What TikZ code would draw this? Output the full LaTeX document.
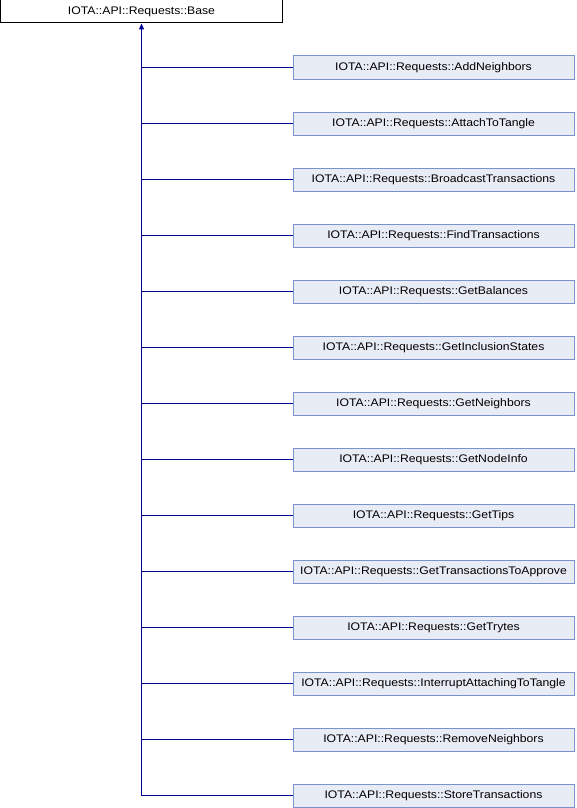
\documentclass[tikz,border=0pt]{standalone}
\usepackage{fontspec}
\setmainfont[FakeStretch=1.11]{Liberation Sans}
\usetikzlibrary{arrows.meta}
\definecolor{linknavy}{RGB}{0,0,150}
\definecolor{classfill}{RGB}{232,236,245}
\definecolor{classedge}{RGB}{122,146,206}
\tikzset{
  basebox/.style={draw=black, fill=white, line width=1pt, minimum width=282pt,
    minimum height=23pt, inner sep=0pt, font=\fontsize{11}{12}\selectfont},
  childbox/.style={draw=classedge, fill=classfill, line width=1pt, minimum width=281pt,
    minimum height=23pt, inner sep=0pt, font=\fontsize{11}{12}\selectfont},
  inherit/.style={draw=linknavy, line width=1pt},
}
\begin{document}
\begin{tikzpicture}[x=1pt, y=-1pt]
\useasboundingbox (0,0) rectangle (576,808);
\node[basebox] (base) at (141.5,11.5) {IOTA::API::Requests::Base};
\foreach \name [count=\k from 0] in {AddNeighbors, AttachToTangle, BroadcastTransactions,
  FindTransactions, GetBalances, GetInclusionStates, GetNeighbors, GetNodeInfo, GetTips,
  GetTransactionsToApprove, GetTrytes, InterruptAttachingToTangle, RemoveNeighbors,
  StoreTransactions}{
  \node[childbox] (c\k) at (433.5,{67.5+56*\k}) {IOTA::API::Requests::\name};
}
% trunk with the inheritance arrowhead at the base class
\draw[inherit, {Triangle[length=6pt,width=5pt]}-] (base.south) -- (base.south |- c13.west) -- (c13.west);
\foreach \k in {0,...,12}{
  \draw[inherit] (base.south |- c\k.west) -- (c\k.west);
}
\end{tikzpicture}
\end{document}
